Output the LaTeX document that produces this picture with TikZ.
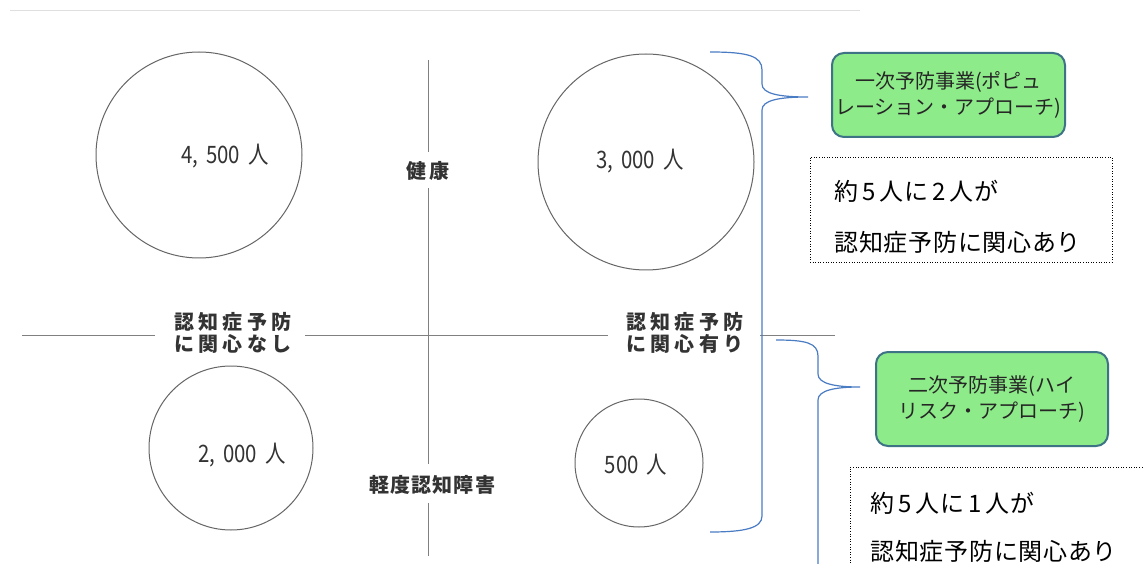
\documentclass[tikz,border=0pt]{standalone}
\usepackage{fontspec}
\setmainfont{Noto Sans CJK JP}
\newfontfamily\jpax[LetterSpace=22]{Noto Sans CJK JP}
\newfontfamily\jpaxb[LetterSpace=6]{Noto Sans CJK JP}
\newfontfamily\jpaxc[LetterSpace=12]{Noto Sans CJK JP}
\newfontfamily\jpc[FakeStretch=0.85]{Noto Sans CJK JP}
\newfontfamily\jpd[LetterSpace=3]{Noto Sans CJK JP}
\newfontfamily\jp{Noto Sans CJK JP}
\definecolor{gline}{HTML}{808080}
\definecolor{bline}{HTML}{4A7CC4}
\definecolor{gfill}{HTML}{8EEB8A}
\definecolor{gbord}{HTML}{3D7385}
\definecolor{tgray}{HTML}{333333}
\begin{document}
\begin{tikzpicture}[x=1pt,y=-1pt,
  circ/.style={draw=gline!80!black,line width=1pt,circle,inner sep=0pt},
  clabel/.style={font=\jpc\fontsize{24}{26}\selectfont,text=tgray},
  axlabel/.style={font=\jpax\bfseries\fontsize{20}{21.5}\selectfont,text=tgray,align=left,inner sep=0pt},
  axis/.style={draw=gline,line width=0.9pt},
  brace/.style={draw=bline,line width=1.2pt},
  gbox/.style={draw=gbord,line width=2pt,fill=gfill,rounded corners=12pt,align=center,font=\jp\fontsize{20}{26}\selectfont,text=black!85,inner sep=0pt},
  dbox/.style={draw=black,dotted,line width=0.6pt,inner sep=0pt},
  dtext/.style={font=\jpd\fontsize{24}{26}\selectfont,text=black,anchor=west}]
\useasboundingbox (0,0) rectangle (1144,564);
\fill[white] (0,0) rectangle (1144,564);
\draw[gray!25,line width=0.8pt] (10,10) -- (860,10);

% circles
\node[circ,minimum size=206pt] (c1) at (199,155) {};
\node[clabel] (t1) at (225,156) {4,\,\,500\,\,人};
\node[circ,minimum size=216pt] (c2) at (646,162) {};
\node[clabel] (t2) at (640,161) {3,\,\,000\,\,人};
\node[circ,minimum size=164pt] (c3) at (231,448) {};
\node[clabel] (t3) at (242,455) {2,\,\,000\,\,人};
\node[circ,minimum size=128pt] (c4) at (639,463) {};
\node[clabel] (t4) at (636,465) {500\,\,人};

% axis labels
\node[axlabel] (hl) at (233,333) {認知症予防\\に関心なし};
\node[axlabel] (hr) at (685,333) {認知症予防\\に関心有り};
\node[axlabel,font=\jpaxc\bfseries\fontsize{20}{22}\selectfont] (vt) at (428,171) {健康};
\node[axlabel,font=\jpaxb\bfseries\fontsize{20}{22}\selectfont] (vb) at (432,485) {軽度認知障害};

% axes
\coordinate (vtop) at (428,60);
\coordinate (vbot) at (428,556);
\coordinate (hleft) at (22,335);
\coordinate (hright) at (835,335);
\draw[axis] (vtop) -- (428,152);
\draw[axis] (428,188) -- (428,464);
\draw[axis] (428,503) -- (vbot);
\draw[axis] (hleft) -- (155,335);
\draw[axis] (305,335) -- (608,335);
\draw[axis] (760,335) -- (hright);

% braces
\coordinate (b1tip) at (808,97);
\coordinate (b2tip) at (860,387);
\draw[brace] (710,52) .. controls (748,52) and (762,56) .. (762,70) -- (762,84)
  .. controls (762,94) and (780,97) .. (b1tip)
  .. controls (780,97) and (762,100) .. (762,110) -- (762,516)
  .. controls (762,528) and (745,532) .. (710,532);
\draw[brace] (776,340) .. controls (806,340) and (818,343) .. (818,356) -- (818,374)
  .. controls (818,384) and (836,387) .. (b2tip)
  .. controls (836,387) and (818,390) .. (818,400) -- (818,564);

% green boxes
\node[gbox,minimum width=233pt,minimum height=84pt] (g1) at (948.5,95) {一次予防事業(ポピュ\\レーション・アプローチ)};
\node[gbox,minimum width=232pt,minimum height=94pt] (g2) at (992,399) {二次予防事業(ハイ\\リスク・アプローチ)};

% dotted boxes
\node[dbox,minimum width=302pt,minimum height=105pt] (d1) at (961,209.5) {};
\node[dtext] (d1a) at (831,191) {約\,5\,人に\,2\,人が};
\node[dtext] (d1b) at (831,242) {認知症予防に関心あり};
\draw[dbox] (1150,467) -- (850,467) -- (850,570);
\node[dtext] (d2a) at (867,503) {約\,5\,人に\,1\,人が};
\node[dtext] (d2b) at (867,551) {認知症予防に関心あり};
\end{tikzpicture}
\end{document}
